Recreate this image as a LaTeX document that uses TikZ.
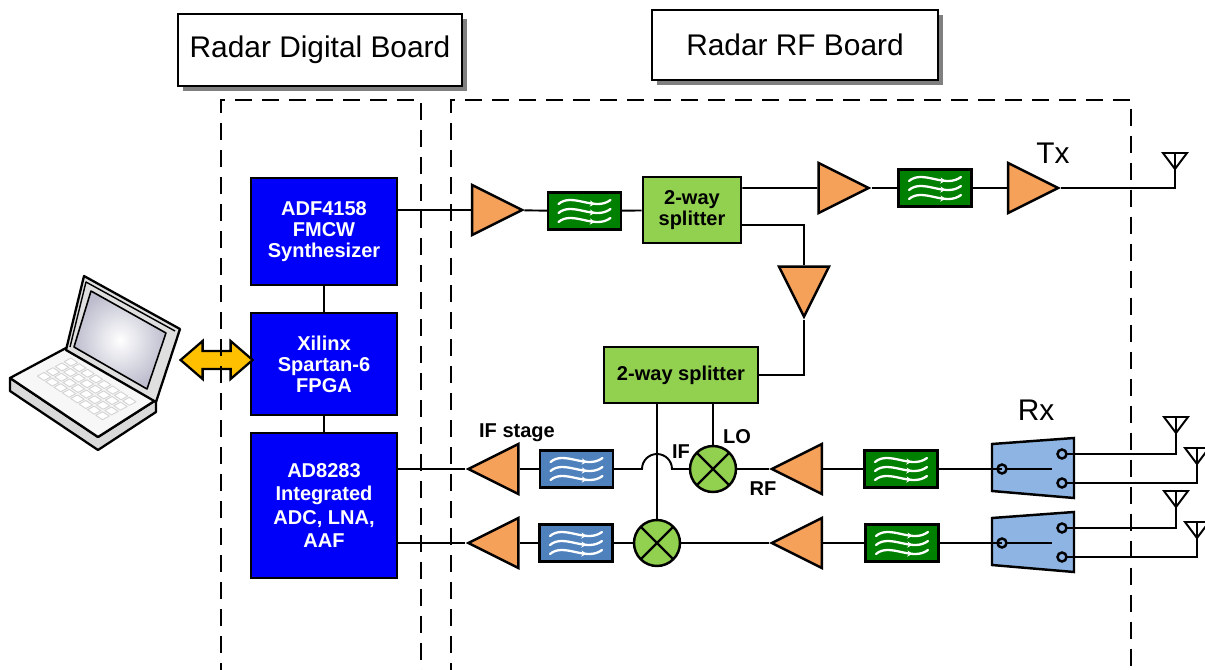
\documentclass[tikz,border=0pt]{standalone}
\usepackage{fontspec}
\setmainfont{Liberation Sans}
\usepackage{tikz}
\usetikzlibrary{arrows.meta, calc, shapes.geometric, shadows, decorations.markings}

\definecolor{chipblue}{RGB}{0,0,250}
\definecolor{ampfill}{RGB}{245,161,90}
\definecolor{lpfgreen}{RGB}{0,128,0}
\definecolor{ifblue}{RGB}{79,129,189}
\definecolor{splgreen}{RGB}{146,208,80}
\definecolor{swblue}{RGB}{142,180,227}
\definecolor{linkgold}{RGB}{255,192,0}

\begin{document}
\begin{tikzpicture}[x=0.02cm, y=-0.02cm, >=Stealth,
  wire/.style={line width=1.1pt},
  board/.style={line width=1.6pt, dash pattern=on 0.34cm off 0.2cm},
  boardtitle/.style={draw, line width=1.3pt, fill=white, inner sep=0pt,
    font=\fontsize{17}{20}\selectfont,
    drop shadow={shadow xshift=0.1cm, shadow yshift=-0.1cm, fill=black!50, opacity=1}},
  chip/.style={draw, line width=1.6pt, fill=chipblue, text=white, align=center,
    font=\fontsize{11.4}{12}\selectfont\bfseries, minimum width=2.92cm, inner sep=0pt},
  amp/.style={isosceles triangle, isosceles triangle stretches, draw, line width=1.4pt,
    fill=ampfill, minimum width=1.0cm, minimum height=1.0cm, inner sep=0pt},
  wave/.style={white, line width=1.3pt, line cap=round, postaction={decorate, decoration={markings,
    mark=at position 0.7 with {\arrow{Stealth[length=3pt, width=3.5pt]}}}}},
  filt/.style={draw, line width=1.4pt, minimum width=1.46cm, minimum height=0.74cm, inner sep=0pt,
    path picture={
      \foreach \dy in {-9,0,9}
        \draw[wave] ($(path picture bounding box.center)+(-26,\dy+2)$)
          .. controls +(14,-12) and +(-16,12) .. +(52,-4);
    }},
  splitter/.style={draw, line width=1.6pt, fill=splgreen, align=center, inner sep=0pt,
    font=\fontsize{11.4}{11.8}\selectfont\bfseries},
  mixer/.style={circle, draw, line width=1.4pt, fill=splgreen, minimum size=0.92cm, inner sep=0pt,
    path picture={
      \draw[line width=1.4pt] (path picture bounding box.north west) -- (path picture bounding box.south east)
        (path picture bounding box.north east) -- (path picture bounding box.south west);
    }},
  swbox/.style={draw, line width=1.4pt, fill=swblue, line join=miter},
  term/.style={draw, line width=1.4pt, fill=swblue},
  lbl/.style={font=\fontsize{11.4}{12}\selectfont\bfseries, inner sep=0pt},
  big/.style={font=\fontsize{17}{20}\selectfont, inner sep=0pt},
  antenna/.pic={
    \draw[line width=1.1pt, line join=miter] (-12,0) -- (12,0) -- (0,16) -- cycle (0,0) -- (0,16);
    \coordinate (-tip) at (0,16);
  }]
  \useasboundingbox (0,0) rectangle (1205,670);

  % === TITLES ===
  \node[boardtitle, minimum width=5.68cm, minimum height=1.44cm] (tdig) at (320,50) {Radar Digital Board};
  \node[boardtitle, minimum width=5.72cm, minimum height=1.40cm] (trf) at (795,45) {Radar RF Board};

  % === LAPTOP ===
  \begin{scope}[line width=1.3pt, line join=round]
    % base
    \filldraw[fill=gray!30] (10,378) -- (98,437) -- (156,400) -- (156,412) -- (98,450) -- (10,391) -- cycle;
    \filldraw[fill=gray!6] (10,378) -- (66,348) -- (156,400) -- (98,437) -- cycle;
    % lid
    \filldraw[fill=gray!25] (66,350) -- (84,276) -- (180,329) -- (156,402) -- cycle;
    \draw[line width=0.8pt] (70,347) -- (86,282) -- (175,331);
    \shadedraw[inner color=white, outer color=blue!15!gray!45, line width=0.9pt]
      (91,291) -- (166,333) -- (147,389) -- (74,347) -- cycle;
    % keys
    \begin{scope}[shift={(10,378)}, x={(1.76cm,-1.18cm)}, y={(1.12cm,0.6cm)}]
      \foreach \u in {0.12,0.215,0.31,0.405,0.5,0.595,0.69,0.785}
        \foreach \v in {0.3,0.46,0.62,0.78}
          \filldraw[fill=white, draw=gray!35, line width=0.5pt]
            (\u,\v) -- ++(0.075,0) -- ++(0,0.12) -- ++(-0.075,0) -- cycle;
    \end{scope}
  \end{scope}

  % === DIGITAL BOARD ===
  \node[chip, minimum height=2.14cm] (synth) at (324,231.5) {ADF4158\\FMCW\\Synthesizer};
  \node[chip, minimum height=2.04cm] (fpga) at (324,364) {Xilinx\\Spartan-6\\FPGA};
  \node[chip, minimum height=2.90cm, font=\fontsize{11.4}{13.3}\selectfont\bfseries] (adc) at (324,505.5)
    {AD8283\\Integrated\\ADC, LNA,\\AAF};
  \draw[wire] (synth) -- (fpga);
  \draw[wire] (fpga) -- (adc);

  % link to the laptop
  \filldraw[fill=linkgold, line width=1.3pt, line join=miter] ($(fpga.west)+(3,-4)$)
    -- ++(-22,-19) -- ++(0,10) -- ++(-28,0) -- ++(0,-10) -- ++(-22,19)
    -- ++(22,19) -- ++(0,-10) -- ++(28,0) -- ++(0,10) -- cycle;

  % === TX CHAIN ===
  \node[amp] (amp1) at (487.5,210) {};
  \node[filt, fill=lpfgreen] (lpf1) at (584.5,211) {};
  \node[splitter, minimum width=1.96cm, minimum height=1.32cm] (spl1) at (692,210) {2-way\\splitter};
  \node[amp] (amp2) at (834,188) {};
  \node[filt, fill=lpfgreen] (lpf2) at (935,188) {};
  \node[amp] (amp3) at (1023.5,188) {};
  \node[big] (txlbl) at (1053,153) {Tx};
  \pic (atx) at (1175,153) {antenna};

  \draw[wire] (amp1) -- (amp1 -| synth.east);
  \draw[wire] (amp1) -- (lpf1);
  \draw[wire] (lpf1) -- (spl1);
  \draw[wire] ([yshift=0.44cm]spl1.east) -- (amp2);
  \draw[wire] (amp2) -- (lpf2);
  \draw[wire] (lpf2) -- (amp3);
  \draw[wire] (amp3) -| (atx-tip);

  % === LO PATH ===
  \node[amp, shape border rotate=270] (amp4) at (804,282) {};
  \node[splitter, minimum width=3.08cm, minimum height=1.12cm] (spl2) at (681,375) {2-way splitter};
  \draw[wire] ([yshift=-0.3cm]spl1.east) -| (amp4);
  \draw[wire] (amp4) |- (spl2);

  % === RX CHAINS ===
  \node[mixer] (mix1) at (713,469) {};
  \node[mixer] (mix2) at (657,543) {};
  \node[filt, fill=ifblue] (bpf1) at (576.5,469) {};
  \node[filt, fill=ifblue] (bpf2) at (576,543) {};
  \node[amp, shape border rotate=180] (amp5) at (503,469) {};
  \node[amp, shape border rotate=180] (amp6) at (503,543) {};
  \node[amp, shape border rotate=180] (amp7) at (806.5,469) {};
  \node[amp, shape border rotate=180] (amp8) at (806.5,543) {};
  \node[filt, fill=lpfgreen] (lpf3) at (901,469) {};
  \node[filt, fill=lpfgreen] (lpf4) at (902,543) {};

  \node[lbl] (ifst) at (517,433) {IF stage};
  \node[lbl] (iflbl) at (681,452) {IF};
  \node[lbl] (lolbl) at (737,437) {LO};
  \node[lbl] (rflbl) at (763,489) {RF};
  \node[big] (rxlbl) at (1036,410) {Rx};

  \draw[wire] (mix1) -- (mix1 |- spl2.south);
  \draw[wire] (mix2) -- (mix2 |- spl2.south);

  % upper channel, hops over the LO line
  \draw[wire] (mix1) -- ($(mix1 -| mix2)+(15,0)$) arc[start angle=0, end angle=-180, radius=15] -- (bpf1);
  \draw[wire] (bpf1) -- (amp5);
  \draw[wire] (amp5) -- (amp5 -| adc.east);
  \draw[wire] (amp7) -- (mix1);
  \draw[wire] (lpf3) -- (amp7);

  % lower channel
  \draw[wire] (mix2) -- (bpf2);
  \draw[wire] (bpf2) -- (amp6);
  \draw[wire] (amp6) -- (amp6 -| adc.east);
  \draw[wire] (amp8) -- (mix2);
  \draw[wire] (lpf4) -- (amp8);

  % antenna switches
  \foreach \n/\y in {1/469, 2/543} {
    \filldraw[swbox] (992,\y-25) -- (1074,\y-31) -- (1074,\y+29) -- (992,\y+22) -- cycle;
    \coordinate (sw\n) at (1002,\y);
    \coordinate (sw\n-a) at (1062,\y-15);
    \coordinate (sw\n-b) at (1062,\y+14);
    \pic (ant\n-a) at (1176,\y-52) {antenna};
    \pic (ant\n-b) at (1197,\y-21) {antenna};
    \draw[wire] (sw\n) -- ++(50,0);
    \draw[wire] (sw\n-a) -| (ant\n-a-tip);
    \draw[wire] (sw\n-b) -| (ant\n-b-tip);
    \filldraw[term] (sw\n) circle (4.5) (sw\n-a) circle (4.5) (sw\n-b) circle (4.5);
  }
  \draw[wire] (lpf3) -- (sw1);
  \draw[wire] (lpf4) -- (sw2);

  % === BOARD OUTLINES ===
  \draw[board] (221,680) -- (221,100) -- (421,100) -- (421,680);
  \draw[board] (451,680) -- (451,100) -- (1131,100) -- (1131,680);
\end{tikzpicture}
\end{document}
